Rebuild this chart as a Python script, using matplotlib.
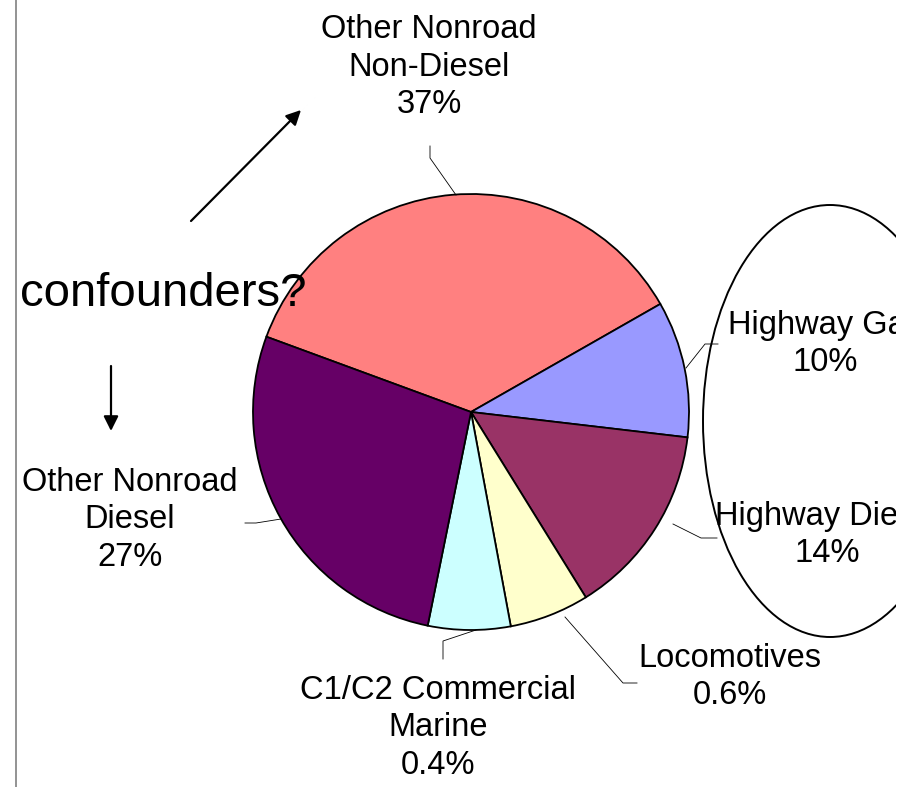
import matplotlib
matplotlib.use("Agg")
import matplotlib.pyplot as plt
from matplotlib.patches import Ellipse, Rectangle

plt.rcParams['font.family'] = ['Liberation Sans', 'DejaVu Sans']

# Data
categories = ["Other Nonroad\nNon-Diesel", "Highway Gas", "Highway Diesel",
              "Locomotives", "C1/C2 Commercial\nMarine", "Other Nonroad\nDiesel"]
slice_sizes = [36.1, 10.1, 14.3, 5.9, 6.1, 27.4]   # visual slice shares
pct_labels = ["37%", "10%", "14%", "0.6%", "0.4%", "27%"]
colors = ["#FF8080", "#9999FF", "#993366", "#FFFFCC", "#CCFFFF", "#660066"]

W, H = 913, 787
fig = plt.figure(figsize=(W / 100, H / 100), dpi=100)
ax = fig.add_axes([0, 0, 1, 1])
ax.set_xlim(0, W)
ax.set_ylim(0, H)
ax.set_aspect('equal')
ax.axis('off')

cx, cy, r = 471, H - 412, 218
ax.pie(slice_sizes, colors=colors, startangle=159.8, counterclock=False,
       center=(cx, cy), radius=r, frame=True,
       wedgeprops=dict(edgecolor='black', linewidth=1.3))
ax.set_xlim(0, W)
ax.set_ylim(0, H)
ax.axis('off')

# clipping region (the original slide is cut at the right)
clip_rect = Rectangle((0, 0), 896, H, transform=ax.transData, visible=False)
ax.add_patch(clip_rect)

fs = 23.5
ls = 1.27
label_pos = [(429, 67), (825, 344), (827, 535), (730, 677), (438, 728), (130, 520)]
full_labels = [f"{c}\n{p}" for c, p in zip(categories, pct_labels)]
for (x, y), t in zip(label_pos, full_labels):
    txt = ax.text(x, H - y, t, ha='center', va='center', fontsize=fs,
                  linespacing=ls, zorder=5)
    txt.set_clip_path(clip_rect)
    txt.set_clip_on(True)

# leader lines
leaders = [
    [(430, 146), (430, 158), (456, 195)],
    [(686, 368), (705, 344), (718, 344)],
    [(673, 524), (701, 538), (717, 538)],
    [(565, 617), (623, 683), (637, 683)],
    [(476, 630), (443, 641), (443, 659)],
    [(281, 519), (256, 523), (245, 523)],
]
for pts in leaders:
    xs = [p[0] for p in pts]
    ys = [H - p[1] for p in pts]
    ax.plot(xs, ys, color='black', lw=0.6, zorder=4)

# left gray line
ax.plot([16, 16], [0, H], color='#808080', lw=1.2, zorder=1)

# ellipse
ell = Ellipse((830, H - 421), 254, 432, fill=False,
              edgecolor='black', lw=1.4, zorder=6)
ax.add_patch(ell)
ell.set_clip_path(clip_rect)

# arrows
ax.annotate("", xy=(301, H - 110), xytext=(191, H - 221),
            arrowprops=dict(arrowstyle='-|>', color='black', lw=1.6,
                            mutation_scale=22, shrinkA=0, shrinkB=0))
ax.annotate("", xy=(111, H - 431), xytext=(111, H - 366),
            arrowprops=dict(arrowstyle='-|>', color='black', lw=1.6,
                            mutation_scale=22, shrinkA=0, shrinkB=0))

ax.text(20, H - 294, "confounders?", ha='left', va='center', fontsize=34,
        zorder=7)

fig.savefig("out.png", dpi=100)
